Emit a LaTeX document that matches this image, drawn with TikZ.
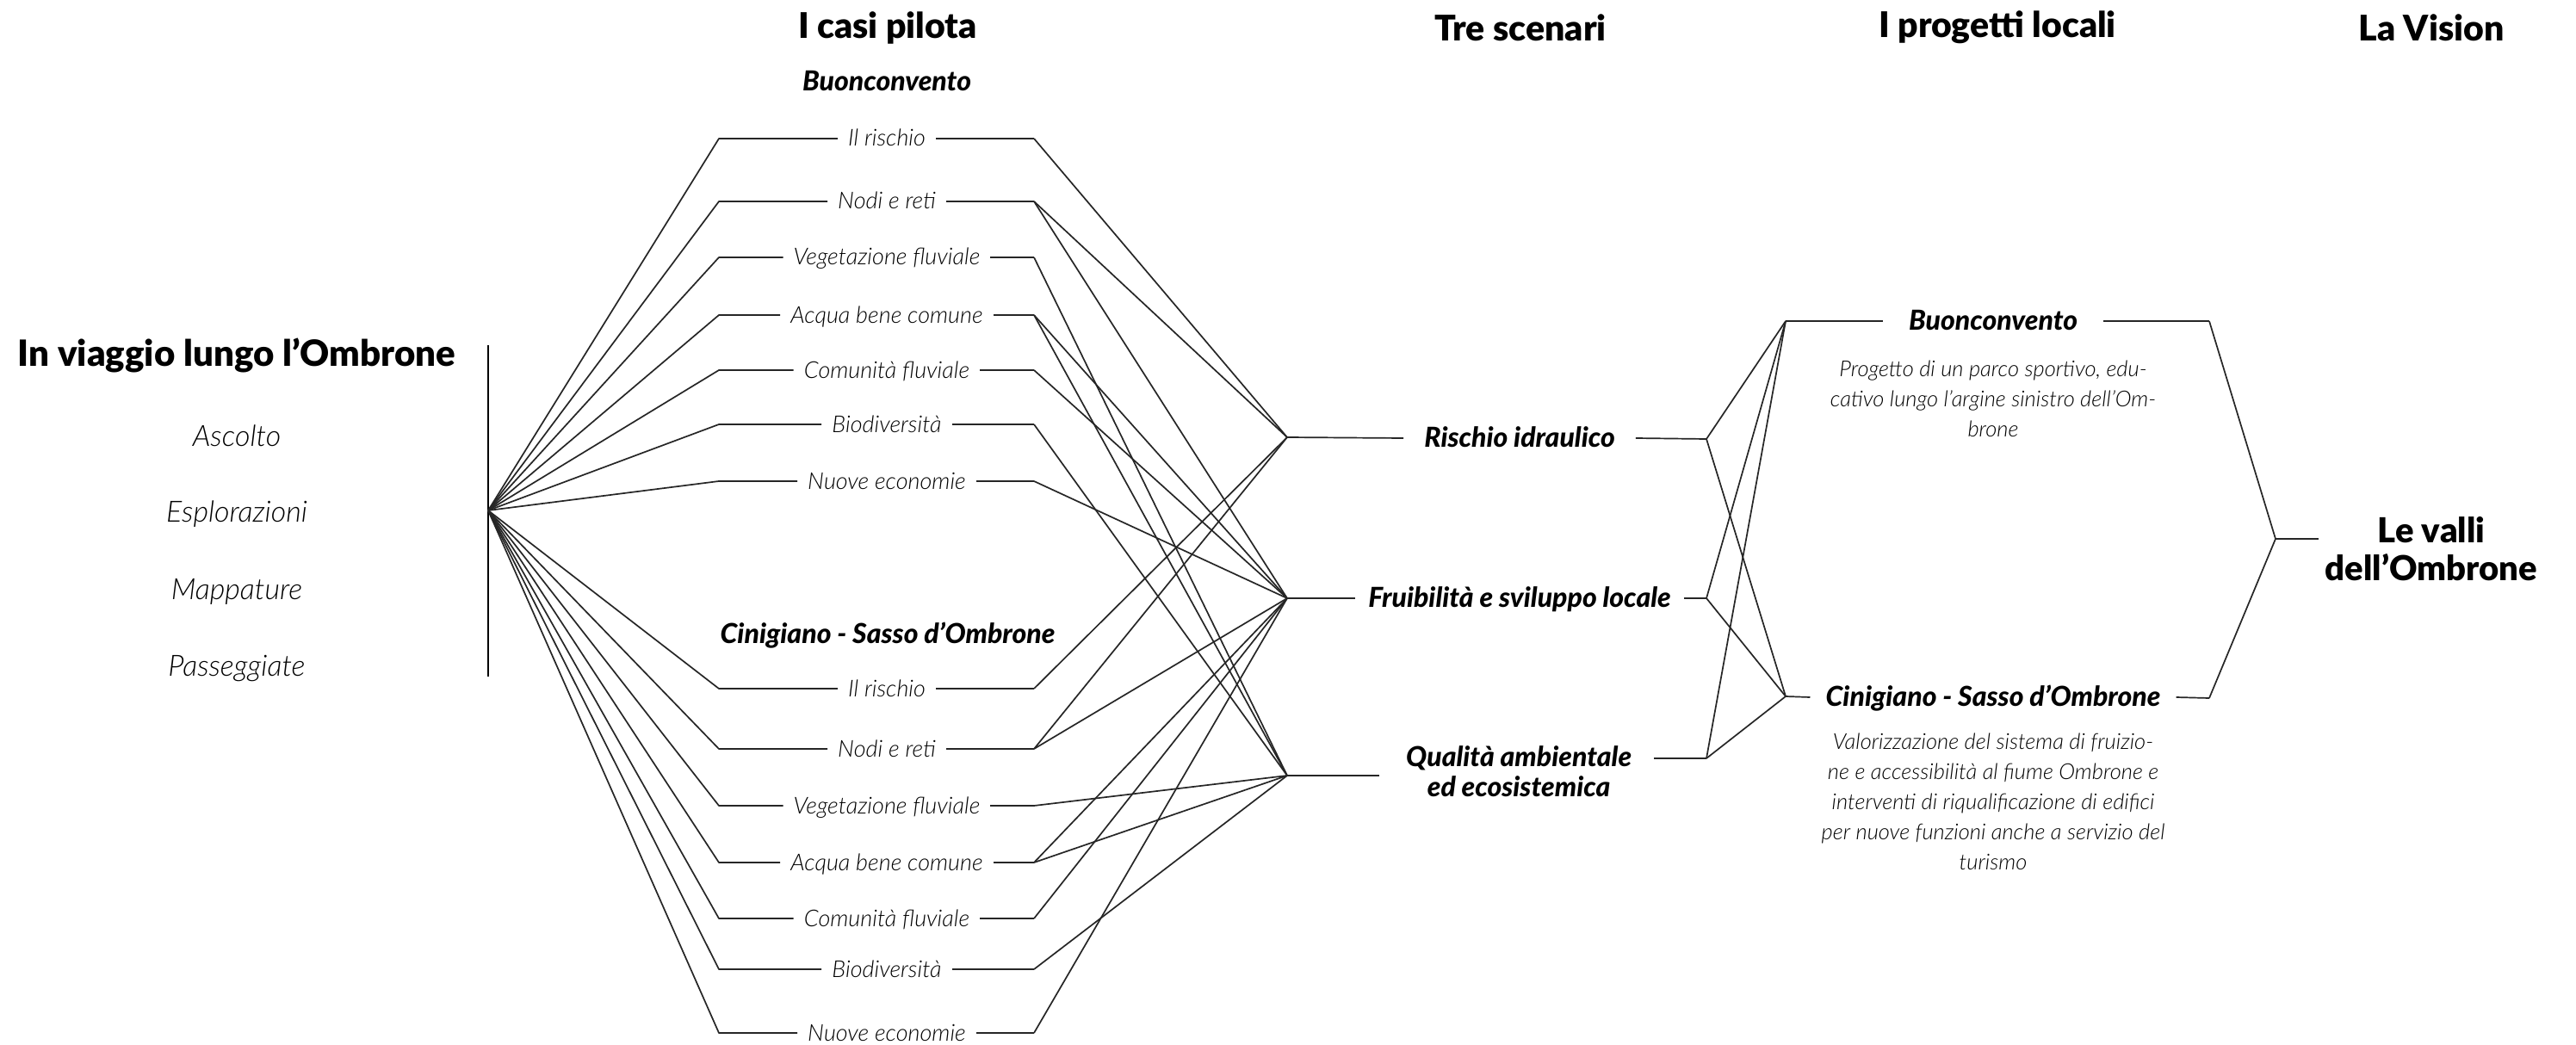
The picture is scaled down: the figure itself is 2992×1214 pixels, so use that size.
\documentclass[tikz,border=0pt]{standalone}
\usepackage{fontspec}
\setmainfont{Lato}
\newfontfamily\lightit{Lato Light Italic}
\newfontfamily\blackf{Lato Black}
\newfontfamily\blackit{Lato Black Italic}
\begin{document}
\begin{tikzpicture}[x=1pt,y=-1pt,
  ln/.style={line width=1.7pt, draw=black!85, line join=round},
  vline/.style={line width=2.6pt, draw=black},
  itm/.style={font=\lightit\fontsize{27}{32}\selectfont, text=black, inner xsep=12pt, inner ysep=0pt, text height=20pt, text depth=2pt},
  big/.style={font=\lightit\fontsize{34}{40}\selectfont, text=black, inner sep=0pt},
  hdr/.style={font=\blackf\fontsize{41}{46}\selectfont, inner sep=0pt},
  ttl/.style={font=\blackf\fontsize{42}{48}\selectfont, inner sep=0pt},
  bi/.style={font=\blackit\fontsize{32}{38}\selectfont, inner ysep=0pt, text height=22pt, text depth=2pt},
  desc/.style={font=\lightit\fontsize{25.5}{35}\selectfont, text=black, align=center, inner sep=0pt},
  vis/.style={font=\blackf\fontsize{40}{44}\selectfont, align=center, inner sep=0pt}
]
\useasboundingbox (0,0) rectangle (2992,1214);

% headers
\node[hdr] (h1) at (1031,32) {I casi pilota};
\node[hdr] (h2) at (1766,32) {Tre scenari};
\node[hdr] (h3) at (2320,32) {I progetti locali};
\node[hdr] (h4) at (2824,32) {La Vision};

% left block
\node[ttl] (t0) at (275,413) {In viaggio lungo l’Ombrone};
\node[big] (a1) at (275,506) {Ascolto};
\node[big] (a2) at (275,597) {Esplorazioni};
\node[big] (a3) at (275,687) {Mappature};
\node[big] (a4) at (275,777) {Passeggiate};
\coordinate (vtop) at (567,401);
\coordinate (vbot) at (567,786);
\draw[vline] (vtop) -- (vbot);
\coordinate (O) at (567,593);

% scenario junctions
\coordinate (R) at (1495,508);
\coordinate (F) at (1495,695);
\coordinate (Q) at (1495,901);

% pilot sub headers
\node[bi] (sb) at (1030,96) {Buonconvento};
\node[bi] (sc) at (1031,737) {Cinigiano - Sasso d’Ombrone};

% pilot items
\foreach \n/\y/\t/\tg in {
  b1/161/Il rischio/{R},
  b2/234/Nodi e reti/{R,F},
  b3/299/Vegetazione fluviale/{Q},
  b4/366/Acqua bene comune/{Q,F},
  b5/430/Comunità fluviale/{F},
  b6/493/Biodiversità/{Q},
  b7/559/Nuove economie/{F},
  c1/800/Il rischio/{R},
  c2/870/Nodi e reti/{R,F},
  c3/936/Vegetazione fluviale/{Q},
  c4/1002/Acqua bene comune/{Q,F},
  c5/1067/Comunità fluviale/{F},
  c6/1126/Biodiversità/{Q},
  c7/1200/Nuove economie/{F}}{
  \node[itm] (\n) at (1030,\y) {\t};
  \coordinate (\n l) at (835,\y);
  \coordinate (\n r) at (1201,\y);
  \draw[ln] (O) -- (\n l) -- (\n.west);
  \draw[ln] (\n.east) -- (\n r);
  \foreach \k in \tg {\draw[ln] (\n r) -- (\k);}
}

% scenarios
\node[bi, inner xsep=24pt] (Rn) at (1765,509) {Rischio idraulico};
\node[bi, inner xsep=15pt] (Fn) at (1765,695) {Fruibilità e sviluppo locale};
\node[bi, align=center, inner sep=0pt, text height=, text depth=, font=\blackit\fontsize{32}{35}\selectfont] (Qn) at (1764,896) {Qualità ambientale\\ed ecosistemica};
\coordinate (RR) at (1982,510);
\coordinate (FR) at (1982,695);
\coordinate (QR) at (1982,881);
\coordinate (Qa) at (1602,901);
\coordinate (Qb) at (1921,881);
\draw[ln] (R) -- (Rn.west);
\draw[ln] (Rn.east) -- (RR);
\draw[ln] (F) -- (Fn.west);
\draw[ln] (Fn.east) -- (FR);
\draw[ln] (Q) -- (Qa);
\draw[ln] (Qb) -- (QR);

% projects
\coordinate (PBj) at (2074,373);
\coordinate (PCj) at (2074,809);
\coordinate (PBr) at (2566,373);
\coordinate (PCr) at (2566,811);
\node[bi, inner xsep=30pt] (PB) at (2315,373) {Buonconvento};
\node[bi, inner xsep=18pt] (PC) at (2315,810) {Cinigiano - Sasso d’Ombrone};
\node[desc] (PBd) at (2315,463) {Progetto di un parco sportivo, edu-\\cativo lungo l’argine sinistro dell’Om-\\brone};
\node[desc] (PCd) at (2315,931) {Valorizzazione del sistema di fruizio-\\ne e accessibilità al fiume Ombrone e\\interventi di riqualificazione di edifici\\per nuove funzioni anche a servizio del\\turismo};
\draw[ln] (PBj) -- (PB.west);
\draw[ln] (PB.east) -- (PBr);
\draw[ln] (PCj) -- (PC.west);
\draw[ln] (PC.east) -- (PCr);
\foreach \s in {RR,FR,QR}{
  \draw[ln] (\s) -- (PBj);
  \draw[ln] (\s) -- (PCj);
}

% vision
\coordinate (VJ) at (2643,626);
\node[vis] (V) at (2824,638) {Le valli\\dell’Ombrone};
\coordinate (VL) at (2693,626);
\draw[ln] (PBr) -- (VJ);
\draw[ln] (PCr) -- (VJ);
\draw[ln] (VJ) -- (VL);
\end{tikzpicture}
\end{document}
